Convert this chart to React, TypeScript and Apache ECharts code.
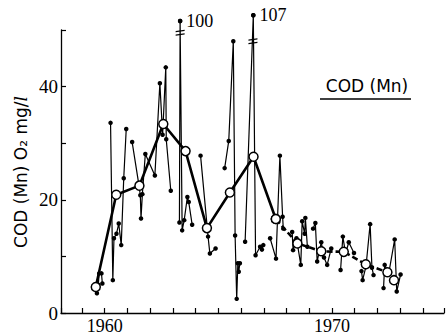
import React, { useEffect, useRef } from "react";
import * as echarts from "echarts";

// ---- data ----
const xLabelYears = [1960, 1970];
const yLabelValues = [0, 20, 40];

// annual means (open circles, thick line)
const meanYears = [1959.61, 1960.51, 1961.53, 1962.58, 1963.56, 1964.5, 1965.51, 1966.55, 1967.53, 1968.48, 1969.53, 1970.52, 1971.49, 1972.44, 1972.73];
const meanValues = [4.6, 20.9, 22.5, 33.4, 28.6, 15.0, 21.3, 27.6, 16.6, 12.3, 10.9, 10.8, 8.6, 7.2, 5.8];
const dashedFromIndex = 8;

// individual measurements (small dots, thin line); null = gap
const sampleYears: (number | null)[] = [
  1959.66, 1959.72, 1959.76, 1959.86, 1959.9, null,
  1960.26, 1960.36, 1960.41, 1960.52, 1960.62, 1960.73, 1960.84, 1960.95, null,
  1961.21, 1961.5, 1961.57, 1961.6, 1961.66, 1961.79, 1962.21, 1962.43, 1962.55, 1962.69, 1962.71, 1962.91, null,
  1963.29, 1963.32, 1963.41, 1963.5, 1963.64, 1963.7, 1963.85, null,
  1964.22, 1964.55, 1964.63, 1964.88, null,
  1965.28, 1965.46, 1965.66, 1965.74, 1965.81, 1965.86, 1965.9, 1965.95, null,
  1966.18, 1966.54, 1966.64, 1966.84, 1966.92, 1966.98, null,
  1967.28, 1967.54, 1967.71, 1967.83, 1967.86, null,
  1968.25, 1968.29, 1968.44, 1968.63, 1968.69, 1968.8, 1968.83, 1968.92, null,
  1969.17, 1969.27, 1969.35, 1969.53, 1969.65, 1969.79, 1969.97, null,
  1970.38, 1970.48, 1970.6, 1970.74, 1970.97, null,
  1971.3, 1971.35, 1971.5, 1971.68, 1971.76, 1971.83, null,
  1972.27, 1972.32, 1972.5, 1972.76, 1972.85, 1973.02,
];
const sampleValues: (number | null)[] = [
  3.5, 5.0, 7.0, 7.0, 5.2, null,
  33.6, 5.8, 13.2, 14.0, 15.8, 12.0, 23.8, 32.5, null,
  30.2, 22.8, 20.8, 16.7, 21.0, 28.1, 24.3, 40.6, 31.5, 43.4, 30.7, 21.6, null,
  16.0, 100, 14.6, 16.4, 20.5, 19.6, 15.6, null,
  27.8, 13.5, 10.5, 11.4, null,
  25.6, 30.4, 48.0, 13.7, 2.5, 8.8, 7.3, 8.8, null,
  12.6, 107, 10.2, 11.7, 11.2, 12.0, null,
  13.2, 9.6, 27.8, 17.0, 14.9, null,
  14.3, 11.1, 13.2, 8.5, 16.2, 14.0, 16.8, 11.7, null,
  14.9, 15.9, 9.1, 12.5, 9.8, 8.5, 11.4, null,
  7.6, 13.5, 10.5, 12.5, 10.6, null,
  7.4, 5.8, 8.3, 15.7, 8.0, 6.7, null,
  4.4, 8.5, 7.0, 13.0, 3.8, 6.8,
];

// ---- broken-axis helpers ----
const AXIS_MAX = 50;
const breakLevels = [49.5, 48.0]; // display height of break marks, one per off-scale value
function disp(v: number): number {
  return v > AXIS_MAX ? 37.3 + v * 0.143 : v;
}

export default function App() {
  const ref = useRef<HTMLDivElement>(null);

  useEffect(() => {
    if (!ref.current) return;
    const chart = echarts.init(ref.current, undefined, { renderer: "svg" });

    const sampleData = sampleYears.map((x, i) => {
      const v = sampleValues[i];
      return x == null || v == null ? [NaN, NaN] : [x, disp(v)];
    });
    const meanData = meanYears.map((x, i) => [x, meanValues[i]]);

    const peaks: number[][] = [];
    const marks: number[][] = [];
    let k = 0;
    sampleValues.forEach((v, i) => {
      if (v != null && v > AXIS_MAX) {
        const x1 = sampleYears[i] as number;
        const y1 = disp(v);
        const x0 = sampleYears[i - 1] as number;
        const y0 = disp(sampleValues[i - 1] as number);
        const x2 = sampleYears[i + 1] as number;
        const y2 = disp(sampleValues[i + 1] as number);
        const L = breakLevels[k++];
        const xa = x0 + ((x1 - x0) * (L - y0)) / (y1 - y0);
        const xb = x1 + ((x2 - x1) * (y1 - L)) / (y1 - y2);
        peaks.push([x1, y1, v]);
        marks.push([(xa + xb) / 2, L]);
      }
    });

    const ink = "#000";
    const option: any = {
      animation: false,
      backgroundColor: "#fff",
      grid: { left: 61, right: 0, top: 30, bottom: 20 },
      xAxis: {
        type: "value",
        min: 1958.08,
        max: 1974.93,
        splitNumber: 17,
        minInterval: 1,
        maxInterval: 1,
        axisLine: { show: true, lineStyle: { color: ink, width: 1.3 } },
        axisTick: { show: true, inside: true, length: 5, lineStyle: { color: ink, width: 1.2 } },
        axisLabel: {
          show: true,
          margin: 4,
          color: ink,
          fontFamily: "Liberation Serif",
          fontSize: 18,
          formatter: (v: number) =>
            xLabelYears.some((y) => Math.abs(y - v) < 1e-6) ? String(Math.round(v)) : "",
        },
        splitLine: { show: false },
      },
      yAxis: {
        type: "value",
        min: 0,
        max: AXIS_MAX,
        interval: 10,
        axisLine: { show: true, lineStyle: { color: ink, width: 1.3 } },
        axisTick: { show: true, inside: true, length: 5, lineStyle: { color: ink, width: 1.2 } },
        axisLabel: {
          show: true,
          margin: 3,
          color: ink,
          fontFamily: "Liberation Serif",
          fontSize: 19,
          formatter: (v: number) => (yLabelValues.includes(v) ? String(v) : ""),
        },
        splitLine: { show: false },
      },
      series: [
        {
          type: "line",
          data: sampleData,
          clip: false,
          connectNulls: false,
          showSymbol: true,
          symbol: "circle",
          symbolSize: 4.5,
          itemStyle: { color: ink },
          lineStyle: { color: ink, width: 1.2 },
          z: 2,
        },
        {
          type: "line",
          data: meanData.slice(0, dashedFromIndex + 1),
          symbol: "circle",
          symbolSize: 9,
          showSymbol: true,
          itemStyle: { color: "#fff", borderColor: ink, borderWidth: 1.5 },
          lineStyle: { color: ink, width: 2.6 },
          z: 4,
        },
        {
          type: "line",
          data: meanData.slice(dashedFromIndex),
          symbol: "circle",
          symbolSize: 9,
          showSymbol: true,
          itemStyle: { color: "#fff", borderColor: ink, borderWidth: 1.5 },
          lineStyle: { color: ink, width: 2.6, type: [6, 3] },
          z: 4,
        },
        {
          type: "scatter",
          data: marks,
          clip: false,
          symbol: "path://M0,1.4 L10,0 L10,1.4 L0,2.8 Z M0,5.4 L10,4 L10,5.4 L0,6.8 Z",
          symbolSize: [9, 6],
          itemStyle: { color: ink, opacity: 1 },
          z: 5,
        },
        {
          type: "scatter",
          data: peaks,
          clip: false,
          symbolSize: 4.5,
          itemStyle: { color: ink, opacity: 1 },
          label: {
            show: true,
            position: "right",
            distance: 4,
            color: ink,
            opacity: 1,
            fontFamily: "Liberation Serif",
            fontSize: 18,
            formatter: (p: any) => String(p.value[2]),
          },
          z: 5,
        },
      ],
      graphic: [
        {
          type: "text",
          x: 21,
          y: 172,
          rotation: Math.PI / 2,
          style: {
            text: "{a|COD (Mn) O₂ mg/}{b|l}",
            align: "center",
            verticalAlign: "middle",
            rich: {
              a: { fontFamily: "DejaVu Sans", fontSize: 17, fill: ink, color: ink },
              b: { fontFamily: "DejaVu Serif", fontStyle: "italic", fontSize: 17, fill: ink, color: ink },
            },
          },
        },
        {
          type: "text",
          x: 367,
          y: 86,
          style: {
            text: "COD (Mn)",
            fontFamily: "DejaVu Sans",
            fontSize: 17,
            fill: ink,
            align: "center",
            verticalAlign: "middle",
          },
        },
        {
          type: "line",
          shape: { x1: 320, y1: 99, x2: 411, y2: 99 },
          style: { stroke: ink, lineWidth: 1.5 },
        },
      ],
    };

    chart.setOption(option);
    return () => chart.dispose();
  }, []);

  return (
    <div
      ref={ref}
      style={{ position: "fixed", left: 0, top: 0, width: 447, height: 335, background: "#fff" }}
    />
  );
}
